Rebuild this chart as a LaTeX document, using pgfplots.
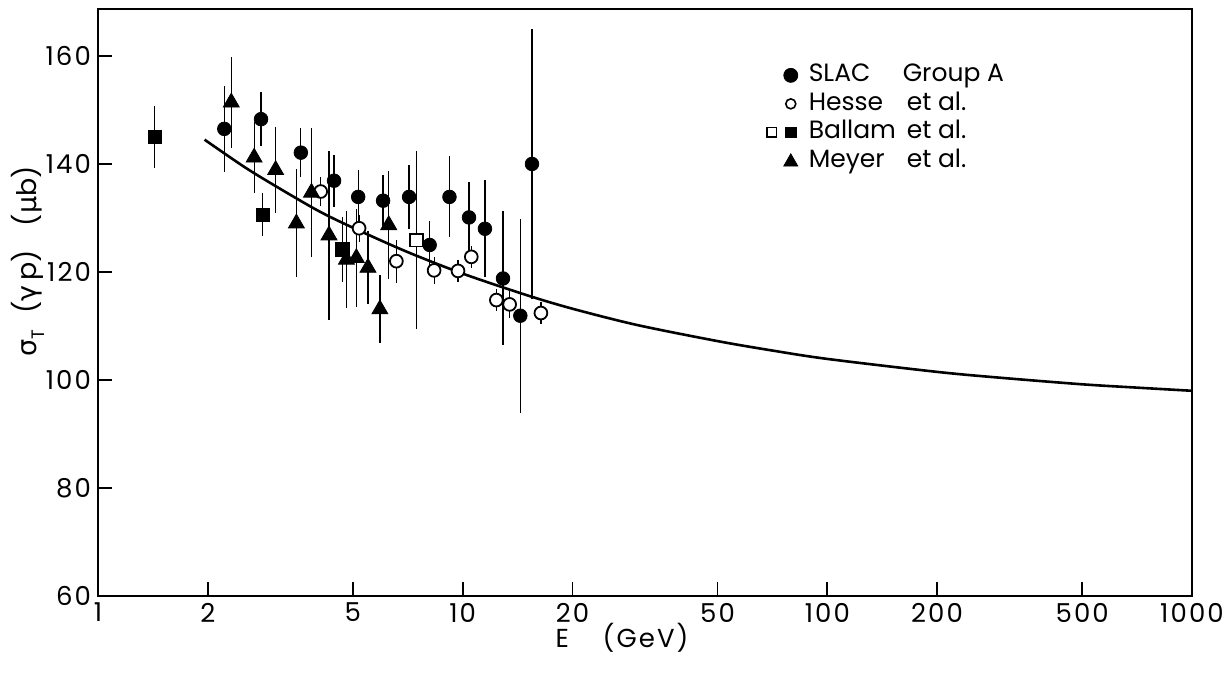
\documentclass[border=0pt]{standalone}
\usepackage{fontspec}
\setmainfont{Poppins}
\newfontfamily\tickfont[LetterSpace=8]{Poppins}
\newfontfamily\greek{DejaVu Sans}
\usepackage{pgfplots}
\pgfplotsset{compat=1.18}
\newcommand{\lbl}{\fontsize{12.5}{15}\selectfont}
\newcommand{\tck}{\tickfont\fontsize{13}{15}\selectfont}
\begin{document}
\begin{tikzpicture}
\useasboundingbox (-49pt,-38.5pt) rectangle (563.5pt,298pt);
\begin{axis}[
  at={(0pt,0pt)}, anchor=south west,
  scale only axis, width=547pt, height=293.5pt,
  xmode=log, xmin=1, xmax=1000, ymin=60, ymax=168.7,
  axis line style={line width=1pt},
  tick align=inside, major tick length=7pt,
  tick style={line width=0.9pt, black},
  xtick pos=bottom, ytick pos=left,
  xminorticks=false, yminorticks=false,
  xtick={1,2,5,10,20,50,100,200,500,1000},
  xticklabels={1,2,5,10,20,50,100,200,500,1000},
  ytick={60,80,100,120,140,160},
  yticklabels={60,80,100,120,140,160},
  /pgf/number format/assume math mode=true,
  ticklabel style={font=\tck},
  xlabel={E\hspace{1.3em}(GeV)},
  ylabel={{\greek σ}\raisebox{-0.5ex}{\fontsize{9}{10}\selectfont T}\hspace{0.6em}({\greek γ}\,p)\hspace{0.9em}({\greek μ}b)},
  x label style={font=\tck, at={(axis description cs:0.479,-0.072)}, anchor=center},
  y label style={font=\fontsize{13.5}{15}\selectfont, at={(axis description cs:-0.064,0.57)}, anchor=center},
  legend style={draw=none, fill=none, inner sep=0pt, at={(axis cs:67.2,158.8)}, anchor=north west,
     font=\lbl, row sep=1.75pt, column sep=5pt, nodes={inner sep=0pt, text height=9.5pt, text depth=3pt}},
  legend cell align=left,
]
% fitted curve
\addplot[forget plot, black, line width=1.3pt, smooth] coordinates {
(1.96,144.5) (2.5,139.6) (3,136.3) (4,131.4) (5,128.2) (7,123.8) (10,119.7) (15,115.7)
(20,113.2) (30,110.2) (50,107.2) (70,105.5) (100,103.9) (200,101.5) (300,100.4) (500,99.2)
(700,98.6) (1000,98.0)};
% SLAC Group A
\addplot[forget plot, only marks, black, mark=*, mark size=3.4pt,
  error bars/.cd, y dir=both, y explicit, error mark=none, error bar style={line width=0.6pt}] coordinates {
(2.22,146.5) +- (0,8) (2.80,148.3) +- (0,5) (3.60,142.1) +- (0,4.5) (4.44,136.9) +- (0,4.8)
(5.17,133.9) +- (0,5) (6.05,133.2) +- (0,4.8) (7.13,133.9) +- (0,6) (8.12,125.0) +- (0,4.4)
(9.20,133.9) +- (0,7.5) (10.41,130.1) +- (0,6.5) (11.51,128.0) +- (0,9) (12.9,118.8) +- (0,12.4)
(14.39,111.9) +- (0,18) (15.49,140.0) +- (0,25)};
% Hesse et al.
\addplot[forget plot, only marks, black, mark=*, mark size=3.2pt, mark options={fill=white, line width=0.9pt},
  error bars/.cd, y dir=both, y explicit, error mark=none, error bar style={line width=0.6pt}] coordinates {
(4.08,134.9) +- (0,2.7) (5.20,128.1) +- (0,2.5) (6.58,122.0) +- (0,4) (8.35,120.3) +- (0,2.5)
(9.71,120.2) +- (0,2) (10.56,122.8) +- (0,2) (12.37,114.8) +- (0,2) (13.45,114.0) +- (0,2.5)
(16.39,112.4) +- (0,2)};
% Ballam et al. (filled)
\addplot[forget plot, only marks, black, mark=square*, mark size=3.3pt,
  error bars/.cd, y dir=both, y explicit, error mark=none, error bar style={line width=0.6pt}] coordinates {
(1.43,145.0) +- (0,5.8) (2.83,130.6) +- (0,4) (4.68,124.2) +- (0,6)};
% Ballam et al. (open)
\addplot[forget plot, only marks, black, mark=square*, mark size=3.2pt, mark options={fill=white, line width=0.9pt},
  error bars/.cd, y dir=both, y explicit, error mark=none, error bar style={line width=0.6pt}] coordinates {
(7.47,125.9) +- (0,16.5)};
% Meyer et al.
\addplot[forget plot, only marks, black, mark=triangle*, mark size=4.6pt,
  error bars/.cd, y dir=both, y explicit, error mark=none, error bar style={line width=0.6pt}] coordinates {
(2.32,151.4) +- (0,8.5) (2.68,141.2) +- (0,6.5) (3.07,138.9) +- (0,8) (3.50,129.0) +- (0,10)
(3.85,134.7) +- (0,12) (4.30,126.8) +- (0,15.6) (4.80,122.3) +- (0,9) (5.11,122.6) +- (0,9)
(5.50,120.8) +- (0,6.7) (5.93,113.1) +- (0,6.3) (6.27,128.7) +- (0,10)};
% legend
\addlegendimage{legend image code/.code={\path[draw=none,fill=none] (-13pt,-4pt) rectangle (4pt,4pt); \fill[black] (0pt,0pt) circle (3.5pt);}}
\addlegendentry{\makebox[47pt][l]{SLAC}Group A}
\addlegendimage{legend image code/.code={\path[draw=none,fill=none] (-13pt,-4pt) rectangle (4pt,4pt); \draw[black, line width=0.8pt] (0pt,0pt) circle (2.5pt);}}
\addlegendentry{\makebox[49pt][l]{Hesse}et al.}
\addlegendimage{legend image code/.code={\path[draw=none,fill=none] (-13pt,-4pt) rectangle (4pt,4pt); \draw[black, line width=0.8pt] (-12pt,-2.4pt) rectangle (-7.2pt,2.4pt); \fill[black] (-2.7pt,-2.7pt) rectangle (2.7pt,2.7pt);}}
\addlegendentry{\makebox[49pt][l]{Ballam}et al.}
\addlegendimage{legend image code/.code={\path[draw=none,fill=none] (-13pt,-4pt) rectangle (4pt,4pt); \fill[black] (-3.5pt,-2.6pt) -- (3.5pt,-2.6pt) -- (0pt,3.5pt) -- cycle;}}
\addlegendentry{\makebox[49pt][l]{Meyer}et al.}
\end{axis}
\end{tikzpicture}
\end{document}
